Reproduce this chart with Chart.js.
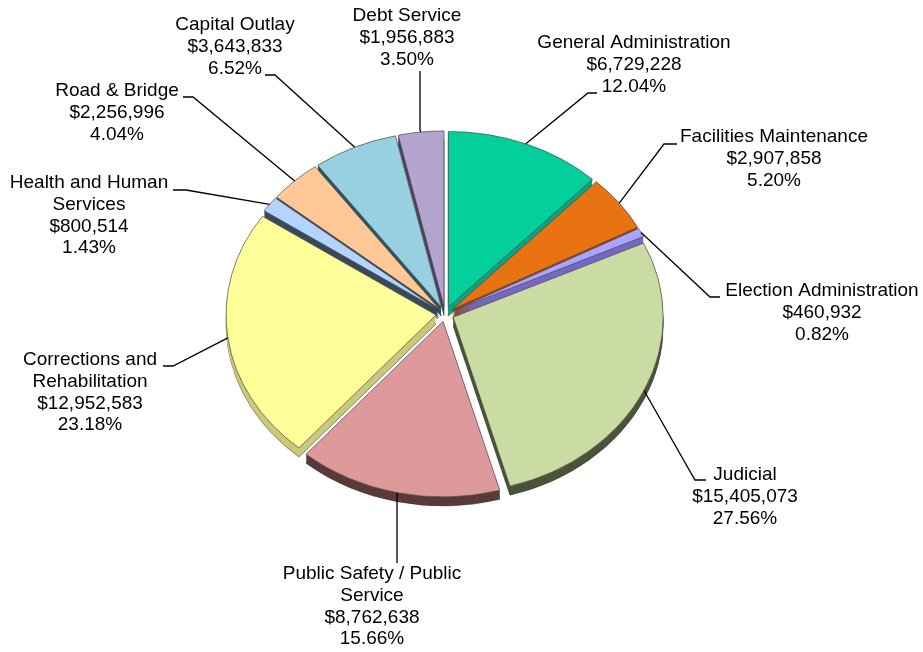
<!DOCTYPE html>
<html>
<head>
<meta charset="utf-8">
<script src="https://cdn.jsdelivr.net/npm/chart.js@4.4.0/dist/chart.umd.min.js"></script>
<style>
  html, body { margin: 0; padding: 0; background: #ffffff; }
  #wrap { width: 923px; height: 652px; position: relative; }
</style>
</head>
<body>
<div id="wrap"><canvas id="c"></canvas></div>
<script>
// ---- data ----
const categories = [
  "General Administration",
  "Facilities Maintenance",
  "Election Administration",
  "Judicial",
  "Public Safety / Public Service",
  "Corrections and Rehabilitation",
  "Health and Human Services",
  "Road & Bridge",
  "Capital Outlay",
  "Debt Service"
];
const amounts = [6729228, 2907858, 460932, 15405073, 8762638, 12952583, 800514, 2256996, 3643833, 1956883];
const percents = [12.04, 5.20, 0.82, 27.56, 15.66, 23.18, 1.43, 4.04, 6.52, 3.50];

// ---- styles ----
const topColors  = ["#03CF9D", "#E97212", "#ABA3FF", "#CADBA3", "#DE9A9A", "#FFFF99", "#B2D4FF", "#FFC896", "#99D0E1", "#B3A4CF"];
const sideColors = ["#07A57E", "#9A4A0C", "#7668C4", "#4B5339", "#5C3A3A", "#C9C979", "#3A4A5C", "#34414F", "#2E5560", "#4A4262"];

// ---- layout ----
const SY = 0.836;      // vertical squash of the tilted pie
const DEPTH = 9;       // thickness of the pie in px
const EXPLODE = 9;     // radial explosion in px
const RADIUS = 210;
const LINE_H = 21.7;
const FONT = '19px "Liberation Sans", Arial, sans-serif';
// label block: centre x, first-line centre y, wrap width, leader points (text side first)
const labelLayout = [
  { x: 634, y: 43,  wrap: 240, leader: [[597, 93], [588, 93]] },
  { x: 774, y: 137, wrap: 240, leader: [[677, 144], [664, 144]] },
  { x: 822, y: 291, wrap: 220, leader: [[720, 297], [710, 297]] },
  { x: 745, y: 475, wrap: 200, leader: [[706, 480], [695, 480]] },
  { x: 372, y: 574, wrap: 190, leader: [[397, 563], [397, 497]] },
  { x: 90,  y: 360, wrap: 160, leader: [[163, 366], [173, 366]] },
  { x: 89,  y: 183, wrap: 170, leader: [[173, 190], [186, 190]] },
  { x: 117, y: 91,  wrap: 200, leader: [[183, 97], [193, 97]] },
  { x: 235, y: 25,  wrap: 200, leader: [[265, 75], [275, 75]] },
  { x: 407, y: 16,  wrap: 200, leader: [[420, 71], [420, 130]] }
];

function drawArcCopy(ctx, el, color, dy, bw, bc) {
  const h = (el.startAngle + el.endAngle) / 2;
  const proxy = Object.create(el);
  proxy.options = Object.assign({}, el.options, {
    backgroundColor: color, borderWidth: bw, borderColor: bc, offset: 0
  });
  ctx.save();
  ctx.translate(Math.cos(h) * EXPLODE, Math.sin(h) * EXPLODE + dy / SY);
  proxy.draw(ctx);
  ctx.restore();
}

const pie3d = {
  id: 'pie3d',
  beforeDatasetsDraw(chart) {
    const meta = chart.getDatasetMeta(0);
    const arcs = meta.data;
    if (!arcs.length) return;
    const ctx = chart.ctx;
    const cx = arcs[0].x, cy = arcs[0].y;
    ctx.save();
    ctx.translate(cx, cy);
    ctx.scale(1, SY);
    ctx.translate(-cx, -cy);
    for (let d = DEPTH; d >= 1; d--) {
      arcs.forEach((el, i) => {
        drawArcCopy(ctx, el, sideColors[i], d, d === DEPTH ? 1 : 0, 'rgba(40,40,40,0.55)');
      });
    }
    arcs.forEach((el, i) => {
      drawArcCopy(ctx, el, topColors[i], 0, 1, 'rgba(70,70,70,0.75)');
    });
    ctx.restore();
    return false;
  }
};

function wrapText(ctx, text, maxW) {
  const words = text.split(' ');
  const lines = [];
  let cur = '';
  words.forEach(w => {
    const t = cur ? cur + ' ' + w : w;
    if (ctx.measureText(t).width > maxW && cur) {
      lines.push(cur);
      cur = w;
    } else {
      cur = t;
    }
  });
  if (cur) lines.push(cur);
  return lines;
}

const labelsPlugin = {
  id: 'labels3d',
  afterDraw(chart) {
    const arcs = chart.getDatasetMeta(0).data;
    if (!arcs.length) return;
    const ctx = chart.ctx;
    const cx = arcs[0].x, cy = arcs[0].y;
    ctx.save();
    ctx.font = FONT;
    ctx.fillStyle = '#000000';
    ctx.strokeStyle = '#000000';
    ctx.lineWidth = 1.3;
    ctx.textAlign = 'center';
    ctx.textBaseline = 'middle';
    arcs.forEach((el, i) => {
      const h = (el.startAngle + el.endAngle) / 2;
      const r = el.outerRadius + EXPLODE;
      const ax = cx + Math.cos(h) * r;
      const ay = cy + Math.sin(h) * r * SY;
      const L = labelLayout[i];
      ctx.beginPath();
      ctx.moveTo(L.leader[0][0], L.leader[0][1]);
      for (let k = 1; k < L.leader.length; k++) ctx.lineTo(L.leader[k][0], L.leader[k][1]);
      ctx.lineTo(ax, ay);
      ctx.stroke();
      const lines = wrapText(ctx, categories[i], L.wrap);
      lines.push('$' + amounts[i].toLocaleString('en-US'));
      lines.push(percents[i].toFixed(2) + '%');
      lines.forEach((t, k) => ctx.fillText(t, L.x, L.y + k * LINE_H));
    });
    ctx.restore();
  }
};

new Chart(document.getElementById('c'), {
  type: 'pie',
  data: {
    labels: categories,
    datasets: [{
      data: amounts,
      backgroundColor: topColors,
      borderColor: 'rgba(70,70,70,0.75)',
      borderWidth: 1,
      offset: 0
    }]
  },
  options: {
    responsive: true,
    maintainAspectRatio: false,
    animation: false,
    radius: RADIUS,
    events: [],
    layout: { padding: { left: 0, right: 33, top: 0, bottom: 24 } },
    plugins: {
      legend: { display: false },
      tooltip: { enabled: false }
    }
  },
  plugins: [pie3d, labelsPlugin]
});
</script>
</body>
</html>
